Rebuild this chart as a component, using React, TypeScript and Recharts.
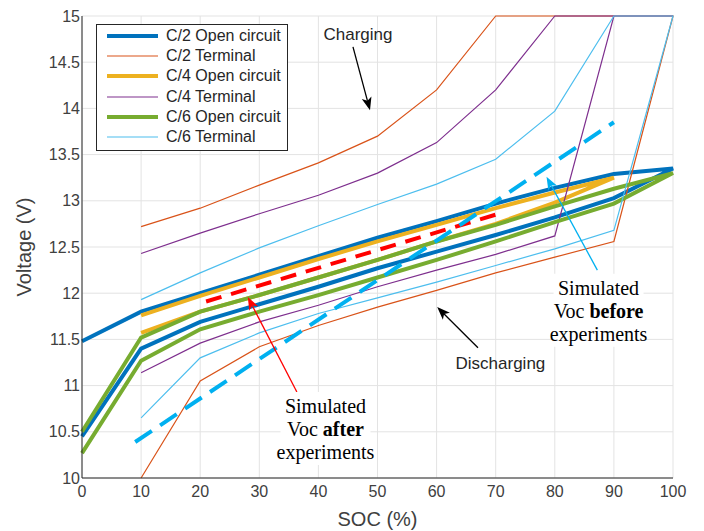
import React from "react";
import {
  LineChart,
  Line,
  XAxis,
  YAxis,
  CartesianGrid,
  Legend,
  ReferenceLine,
  ReferenceDot,
  Label,
} from "recharts";

// SOC steps (%) and voltage ticks (V)
const socSteps = [0, 10, 20, 30, 40, 50, 60, 70, 80, 90, 100];
const voltTicks = [10, 10.5, 11, 11.5, 12, 12.5, 13, 13.5, 14, 14.5, 15];

// each curve: charge branch (going up in SOC) and discharge branch (coming back), null = no point
const c2OcCharge = [11.48, 11.8, 12.0, 12.2, 12.4, 12.6, 12.78, 12.97, 13.14, 13.29, 13.35];
const c2OcDischarge = [10.45, 11.4, 11.69, 11.88, 12.07, 12.27, 12.45, 12.63, 12.82, 13.03, 13.35];
const c2TermCharge = [null, 12.72, 12.92, 13.17, 13.41, 13.7, 14.2, 15, 15, 15, 15];
const c2TermDischarge = [null, 10.0, 11.05, 11.42, 11.65, 11.85, 12.03, 12.22, 12.39, 12.56, 15];
const c4OcCharge = [null, 11.76, 11.97, 12.17, 12.37, 12.56, 12.74, 12.92, 13.09, 13.25, null];
const c4OcDischarge = [null, 11.57, 11.8, 11.98, 12.17, 12.36, 12.56, 12.75, 12.98, 13.25, null];
const c4TermCharge = [null, 12.43, 12.65, 12.86, 13.06, 13.3, 13.63, 14.2, 15, 15, 15];
const c4TermDischarge = [null, 11.14, 11.46, 11.69, 11.87, 12.07, 12.25, 12.42, 12.62, 15, 15];
const c6OcCharge = [10.5, 11.52, 11.8, 11.98, 12.17, 12.36, 12.56, 12.74, 12.94, 13.13, 13.3];
const c6OcDischarge = [10.27, 11.27, 11.61, 11.8, 11.98, 12.17, 12.36, 12.56, 12.77, 12.97, 13.3];
const c6TermCharge = [null, 11.93, 12.22, 12.49, 12.73, 12.96, 13.18, 13.45, 13.97, 15, 15];
const c6TermDischarge = [null, 10.65, 11.3, 11.57, 11.78, 11.95, 12.12, 12.3, 12.48, 12.68, 15];

// simulated Voc lines
const vocAfterSoc = [21, 70];
const vocAfterV = [11.91, 12.85];
const vocBeforeSoc = [9, 90];
const vocBeforeV = [10.39, 13.85];

const axisColor = "#262626";
const sans = "'Liberation Sans', Arial, sans-serif";
const serif = "'Liberation Serif', 'Times New Roman', serif";

type Pt = { soc: number; v: number };

const loop = (charge: (number | null)[], discharge: (number | null)[]): Pt[] => {
  const pts: Pt[] = [];
  socSteps.forEach((s, i) => {
    if (charge[i] != null) pts.push({ soc: s, v: charge[i] as number });
  });
  for (let i = socSteps.length - 1; i >= 0; i--) {
    if (discharge[i] != null) pts.push({ soc: socSteps[i], v: discharge[i] as number });
  }
  return pts;
};

const straight = (socs: number[], vs: number[]): Pt[] => socs.map((s, i) => ({ soc: s, v: vs[i] }));

const series = [
  { name: "C/2 Open circuit", color: "#0072BD", width: 4, data: loop(c2OcCharge, c2OcDischarge) },
  { name: "C/2 Terminal", color: "#D95319", width: 1.2, data: loop(c2TermCharge, c2TermDischarge) },
  { name: "C/4 Open circuit", color: "#EDB120", width: 4, data: loop(c4OcCharge, c4OcDischarge) },
  { name: "C/4 Terminal", color: "#7E2F8E", width: 1.2, data: loop(c4TermCharge, c4TermDischarge) },
  { name: "C/6 Open circuit", color: "#77AC30", width: 4, data: loop(c6OcCharge, c6OcDischarge) },
  { name: "C/6 Terminal", color: "#4DBEEE", width: 1.2, data: loop(c6TermCharge, c6TermDischarge) },
];

const arrowShape = (color: string) => (p: any) => {
  const { x1, y1, x2, y2 } = p;
  const ang = Math.atan2(y2 - y1, x2 - x1);
  const len = 13;
  const half = 5;
  const c = Math.cos(ang);
  const s = Math.sin(ang);
  const bx = x2 - len * c;
  const by = y2 - len * s;
  const mx = x2 - len * 0.75 * c;
  const my = y2 - len * 0.75 * s;
  return (
    <g>
      <line x1={x1} y1={y1} x2={mx} y2={my} stroke={color} strokeWidth={1.3} />
      <polygon
        points={`${x2},${y2} ${bx + half * s},${by - half * c} ${mx},${my} ${bx - half * s},${by + half * c}`}
        fill={color}
      />
    </g>
  );
};

const plainText = (txt: string) => (p: any) => (
  <text
    x={p.cx}
    y={p.cy}
    textAnchor="middle"
    dominantBaseline="central"
    fontFamily={sans}
    fontSize={17}
    fill={axisColor}
  >
    {txt}
  </text>
);

const noteText = (bold: string) => (p: any) => (
  <g>
    <rect x={p.cx - 45} y={p.cy - 37} width={90} height={73} fill="#fff" />
    <text textAnchor="middle" fontFamily={serif} fontSize={20} fill="#000">
      <tspan x={p.cx} y={p.cy - 23} dominantBaseline="central">
        Simulated
      </tspan>
      <tspan x={p.cx} y={p.cy} dominantBaseline="central">
        Voc <tspan fontWeight="bold">{bold}</tspan>
      </tspan>
      <tspan x={p.cx} y={p.cy + 23} dominantBaseline="central">
        experiments
      </tspan>
    </text>
  </g>
);

const LegendBox = (props: any) => {
  const items = (props.payload || []).filter((p: any) => series.some((s) => s.name === p.value));
  return (
    <div
      style={{
        width: 192,
        height: 127,
        boxSizing: "border-box",
        border: "1px solid #262626",
        background: "#fff",
        paddingTop: 1,
      }}
    >
      {items.map((p: any) => {
        const s = series.find((x) => x.name === p.value)!;
        return (
          <div key={s.name} style={{ display: "flex", alignItems: "center", height: 20.2 }}>
            <svg width={61} height={20} style={{ display: "block" }}>
              <line x1={10} x2={61} y1={10} y2={10} stroke={s.color} strokeWidth={s.width} />
            </svg>
            <span
              style={{
                marginLeft: 8,
                fontFamily: sans,
                fontSize: 16,
                color: axisColor,
                whiteSpace: "nowrap",
                lineHeight: "20px",
              }}
            >
              {s.name}
            </span>
          </div>
        );
      })}
    </div>
  );
};

const tickStyle = { fill: "#404040", fontSize: 16, fontFamily: sans };

export default function App() {
  return (
    <div style={{ position: "absolute", left: 0, top: 0, background: "#fff" }}>
      <LineChart width={704} height={531} margin={{ top: 16, right: 31, bottom: 0, left: 0 }}>
        <CartesianGrid stroke="#e3e3e3" strokeWidth={1} />
        <XAxis
          type="number"
          dataKey="soc"
          domain={[0, 100]}
          ticks={socSteps}
          interval={0}
          height={53}
          tickLine={false}
          tickSize={6}
          tickMargin={2}
          axisLine={{ stroke: axisColor }}
          tick={tickStyle}
        >
          <Label
            value="SOC (%)"
            position="insideBottom"
            offset={5}
            style={{ fontFamily: sans, fontSize: 20, fill: "#404040" }}
          />
        </XAxis>
        <YAxis
          type="number"
          domain={[10, 15]}
          ticks={voltTicks}
          interval={0}
          width={82}
          tickLine={false}
          tickSize={1}
          tickMargin={1}
          axisLine={{ stroke: axisColor }}
          tick={tickStyle}
        >
          <Label
            content={(p: any) => {
              const vb = p.viewBox;
              const cx = vb.x + 24;
              const cy = vb.y + vb.height / 2;
              return (
                <text
                  x={cx}
                  y={cy}
                  transform={`rotate(-90 ${cx} ${cy})`}
                  textAnchor="middle"
                  dominantBaseline="central"
                  fontFamily={sans}
                  fontSize={20}
                  fill="#404040"
                >
                  Voltage (V)
                </text>
              );
            }}
          />
        </YAxis>
        {/* inside tick marks + box */}
        <XAxis
          xAxisId="bottomTicks"
          type="number"
          domain={[0, 100]}
          ticks={socSteps}
          interval={0}
          orientation="bottom"
          mirror
          height={0}
          axisLine={false}
          tickSize={5}
          tickLine={{ stroke: axisColor }}
          tick={() => <g />}
        />
        <XAxis
          xAxisId="topTicks"
          type="number"
          domain={[0, 100]}
          ticks={socSteps}
          interval={0}
          orientation="top"
          mirror
          height={0}
          axisLine={{ stroke: axisColor }}
          tickSize={5}
          tickLine={{ stroke: axisColor }}
          tick={() => <g />}
        />
        <YAxis
          yAxisId="leftTicks"
          type="number"
          domain={[10, 15]}
          ticks={voltTicks}
          interval={0}
          orientation="left"
          mirror
          width={0}
          axisLine={false}
          tickSize={5}
          tickLine={{ stroke: axisColor }}
          tick={() => <g />}
        />
        <YAxis
          yAxisId="rightTicks"
          type="number"
          domain={[10, 15]}
          ticks={voltTicks}
          interval={0}
          orientation="right"
          mirror
          width={0}
          axisLine={{ stroke: axisColor }}
          tickSize={5}
          tickLine={{ stroke: axisColor }}
          tick={() => <g />}
        />

        {series.map((s) => (
          <Line
            key={s.name}
            name={s.name}
            data={s.data}
            dataKey="v"
            type="linear"
            stroke={s.color}
            strokeWidth={s.width}
            dot={false}
            activeDot={false}
            isAnimationActive={false}
          />
        ))}
        <Line
          name="Simulated Voc after"
          data={straight(vocAfterSoc, vocAfterV)}
          dataKey="v"
          stroke="#FF0000"
          strokeWidth={4}
          strokeDasharray="16 10"
          dot={false}
          activeDot={false}
          legendType="none"
          isAnimationActive={false}
        />
        <Line
          name="Simulated Voc before"
          data={straight(vocBeforeSoc, vocBeforeV)}
          dataKey="v"
          stroke="#00B0F0"
          strokeWidth={4}
          strokeDasharray="20 10"
          dot={false}
          activeDot={false}
          legendType="none"
          isAnimationActive={false}
        />

        <ReferenceLine segment={[{ x: 45.85, y: 14.665 }, { x: 48.73, y: 13.98 }]} shape={arrowShape("#000")} />
        <ReferenceLine segment={[{ x: 67.0, y: 11.41 }, { x: 60.1, y: 11.85 }]} shape={arrowShape("#000")} />
        <ReferenceLine segment={[{ x: 87.2, y: 12.25 }, { x: 78.6, y: 13.26 }]} shape={arrowShape("#00B0F0")} />
        <ReferenceLine segment={[{ x: 36.36, y: 10.93 }, { x: 28.05, y: 11.96 }]} shape={arrowShape("#FF0000")} />

        <ReferenceDot x={46.7} y={14.8} r={1} shape={plainText("Charging")} />
        <ReferenceDot x={70.8} y={11.234} r={1} shape={plainText("Discharging")} />
        <ReferenceDot x={87.4} y={11.81} r={1} shape={noteText("before")} />
        <ReferenceDot x={41.2} y={10.53} r={1} shape={noteText("after")} />

        <Legend
          layout="vertical"
          align="center"
          verticalAlign="middle"
          content={LegendBox}
          wrapperStyle={{ position: "absolute", left: 96, top: 24, width: 192, height: 127 }}
        />
      </LineChart>
    </div>
  );
}
